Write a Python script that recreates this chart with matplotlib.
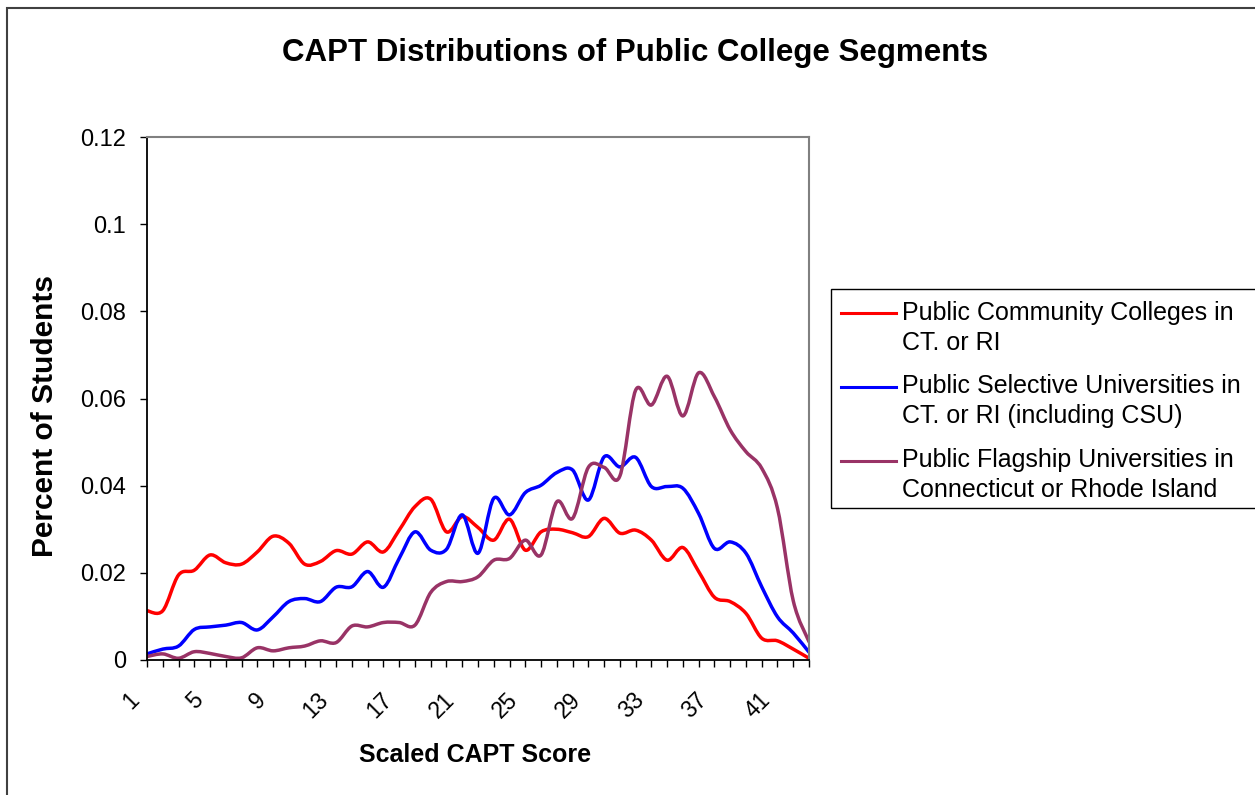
import numpy as np
import matplotlib
matplotlib.use("Agg")
import matplotlib.pyplot as plt
from matplotlib.path import Path
from matplotlib.patches import PathPatch, Rectangle
from matplotlib.lines import Line2D
from matplotlib.transforms import ScaledTranslation

plt.rcParams['font.family'] = ['Liberation Sans', 'DejaVu Sans']

# scaled CAPT score categories 1..43
scores = list(range(1, 44))

community = [0.0113, 0.0113, 0.0195, 0.0206, 0.0241, 0.0223, 0.0220, 0.0248, 0.0284, 0.0268,
             0.0220, 0.0226, 0.0251, 0.0243, 0.0271, 0.0248, 0.0298, 0.0352, 0.0369, 0.0294,
             0.0329, 0.0304, 0.0275, 0.0323, 0.0252, 0.0294, 0.0300, 0.0292, 0.0283, 0.0325,
             0.0291, 0.0298, 0.0275, 0.0229, 0.0258, 0.0203, 0.0144, 0.0134, 0.0107, 0.0050,
             0.0044, 0.0025, 0.0004]

selective = [0.0014, 0.0025, 0.0032, 0.0070, 0.0076, 0.0080, 0.0086, 0.0069, 0.0099, 0.0134,
             0.0141, 0.0134, 0.0167, 0.0168, 0.0203, 0.0167, 0.0233, 0.0294, 0.0252, 0.0254,
             0.0333, 0.0245, 0.0371, 0.0333, 0.0384, 0.0401, 0.0430, 0.0436, 0.0367, 0.0466,
             0.0443, 0.0465, 0.0398, 0.0398, 0.0394, 0.0336, 0.0256, 0.0271, 0.0245, 0.0168,
             0.0099, 0.0062, 0.0018]

flagship = [0.0008, 0.0014, 0.0004, 0.0019, 0.0015, 0.0008, 0.0005, 0.0028, 0.0021, 0.0028,
            0.0032, 0.0044, 0.0040, 0.0078, 0.0076, 0.0086, 0.0086, 0.0080, 0.0155, 0.0180,
            0.0180, 0.0191, 0.0229, 0.0233, 0.0275, 0.0241, 0.0363, 0.0325, 0.0442, 0.0442,
            0.0422, 0.0619, 0.0585, 0.0651, 0.0560, 0.0659, 0.0604, 0.0528, 0.0478, 0.0440,
            0.0348, 0.0136, 0.0042]

series_names = ['Public Community Colleges in\nCT. or RI',
                'Public Selective Universities in\nCT. or RI (including CSU)',
                'Public Flagship Universities in\nConnecticut or Rhode Island']
series_colors = ['#FF0000', '#0000FF', '#993366']

y_ticks = [0, 0.02, 0.04, 0.06, 0.08, 0.1, 0.12]
y_tick_labels = ['0', '0.02', '0.04', '0.06', '0.08', '0.1', '0.12']

W, H = 1255, 795


def fx(px):
    return px / W


def fy(py):
    return 1 - py / H


def smooth_path(xs, ys):
    # excel style smoothed line: bezier segments through every point
    pts = np.column_stack([xs, ys]).astype(float)
    n = len(pts)
    verts = [pts[0]]
    codes = [Path.MOVETO]
    for i in range(n - 1):
        p0 = pts[max(i - 1, 0)]
        p1 = pts[i]
        p2 = pts[i + 1]
        p3 = pts[min(i + 2, n - 1)]
        verts += [p1 + (p2 - p0) / 6, p2 - (p3 - p1) / 6, p2]
        codes += [Path.CURVE4] * 3
    return Path(verts, codes)


fig = plt.figure(figsize=(12.55, 7.95), dpi=100)
fig.patch.set_facecolor('white')
ax = fig.add_axes([fx(147), fy(660), (809 - 147) / W, (660 - 137) / H])

for vals, col in zip([community, selective, flagship], series_colors):
    ax.add_patch(PathPatch(smooth_path(scores, vals), fill=False, edgecolor=col,
                           lw=2.5, joinstyle='round', capstyle='round'))

ax.set_xlim(1, 43)
ax.set_ylim(0, 0.12)

ax.set_xticks(scores)
ax.set_xticklabels([str(s) if (s - 1) % 4 == 0 else '' for s in scores])
ax.tick_params(axis='x', direction='out', length=5, width=1, pad=21.5, labelsize=16.5)
shift = ScaledTranslation(-11 / 100, 0, fig.dpi_scale_trans)
for lab in ax.get_xticklabels():
    lab.set_rotation(45)
    lab.set_ha('right')
    lab.set_va('center')
    lab.set_rotation_mode('anchor')
    lab.set_transform(lab.get_transform() + shift)

ax.set_yticks(y_ticks)
ax.set_yticklabels(y_tick_labels)
ax.tick_params(axis='y', direction='out', length=5, width=1, pad=10, labelsize=17)

for s in ['left', 'bottom']:
    ax.spines[s].set_color('black')
    ax.spines[s].set_linewidth(1.3)
for s in ['top', 'right']:
    ax.spines[s].set_color('#808080')
    ax.spines[s].set_linewidth(1.5)

ax.set_ylabel('Percent of Students', fontsize=21.5, fontweight='bold', va='center')
ax.yaxis.set_label_coords((45.5 - 147) / 662, (660 - 415.5) / 523)
ax.set_xlabel('Scaled CAPT Score', fontsize=18, fontweight='bold', va='center')
ax.xaxis.set_label_coords((475.5 - 147) / 662, (660 - 755.4) / 523)

fig.text(fx(635.5), fy(52.5), 'CAPT Distributions of Public College Segments',
         ha='center', va='center', fontsize=22.5, fontweight='bold')

# outer chart border (left and top visible)
fig.patches.append(Rectangle((fx(7), -0.1), 1.2, (795 - 8) / H + 0.1, fill=False,
                             edgecolor='#404040', lw=1.5, transform=fig.transFigure))

# legend box, handle on first text line like excel
fig.patches.append(Rectangle((fx(831), fy(508.3)), (1300 - 831) / W, (508.3 - 289.3) / H,
                             fill=False, edgecolor='black', lw=1, transform=fig.transFigure))
line_y = [313.3, 386.7, 460.7]
for name, col, ly in zip(series_names, series_colors, line_y):
    fig.lines.append(Line2D([fx(841), fx(896)], [fy(ly), fy(ly)], color=col, lw=2.2,
                            transform=fig.transFigure))
    for k, part in enumerate(name.split('\n')):
        fig.text(fx(902), fy(ly + 6.7 + 30 * k), part, ha='left', va='baseline', fontsize=18)

fig.savefig('out.png', dpi=100)
